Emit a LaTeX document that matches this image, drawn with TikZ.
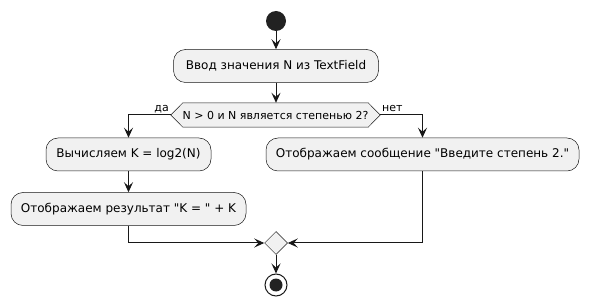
\documentclass[tikz,border=0pt]{standalone}
\usepackage{fontspec}
\setmainfont{DejaVu Sans}
\usetikzlibrary{arrows.meta,calc,shapes.geometric,backgrounds}
\definecolor{boxfill}{HTML}{F1F1F1}
\definecolor{ink}{HTML}{181818}
\definecolor{dot}{HTML}{222222}
\begin{document}
\begin{tikzpicture}[x=1pt,y=-1pt,
  every node/.style={font=\fontsize{12}{14}\selectfont, text=black},
  action/.style={draw=ink, line width=0.5pt, fill=boxfill, rounded corners=12pt,
                 minimum height=33pt, inner sep=0pt},
  flow/.style={draw=ink, line width=1pt,
               -{Stealth[length=10pt,width=9pt,inset=4pt]}},
  guard/.style={font=\fontsize{11}{13}\selectfont, inner sep=0pt}]
\useasboundingbox (0,0) rectangle (589,307);

% start
\node[circle, fill=dot, minimum size=20pt, inner sep=0pt] (start) at (276,21) {};

% actions
\node[action, minimum width=205pt] (read) at (276,66) {Ввод значения N из TextField};

% decision hexagon (frame drawn behind the text node)
\node[font=\fontsize{11}{13}\selectfont, minimum width=209pt, minimum height=24pt, inner sep=0pt]
  (dec) at (275.5,115) {N > 0 и N является степенью 2?};
\begin{scope}[on background layer]
\draw[draw=ink, line width=0.5pt, fill=boxfill]
  (dec.west) -- ($(dec.north west)+(12,0)$) -- ($(dec.north east)+(-12,0)$)
  -- (dec.east) -- ($(dec.south east)+(-12,0)$) -- ($(dec.south west)+(12,0)$) -- cycle;
\end{scope}

\node[guard, anchor=base east] (yes) at (169,112) {да};
\node[guard, anchor=base west] (no) at (382,112) {нет};

\node[action, minimum width=165pt] (calc) at (128.5,154.5) {Вычисляем K = log2(N)};
\node[action, minimum width=235pt] (show) at (128.5,209)
  {Отображаем результат \textquotedbl K = \textquotedbl{} + K};
\node[action, minimum width=313pt] (warn) at (422.5,154.5)
  {Отображаем сообщение \textquotedbl Введите степень 2.\textquotedbl};

% merge
\node[diamond, draw=ink, line width=0.5pt, fill=boxfill, minimum size=23pt, inner sep=0pt] (merge) at (276,243) {};

% end
\node[circle, draw=ink, line width=1pt, fill=white, minimum size=22pt, inner sep=0pt] (stop) at (276,285) {};
\node[circle, fill=dot, minimum size=13pt, inner sep=0pt] (stopdot) at (stop) {};

% connectors
\draw[flow] (start) -- (read);
\draw[flow] (read) -- (dec.north -| read);
\draw[flow] (dec.west) -| (calc.north);
\draw[flow] (dec.east) -| (warn.north);
\draw[flow] (calc) -- (show);
\draw[flow] (show.south) |- (merge.west);
\draw[flow] (warn.south) |- (merge.east);
\draw[flow] (merge) -- (stop);
\end{tikzpicture}
\end{document}
